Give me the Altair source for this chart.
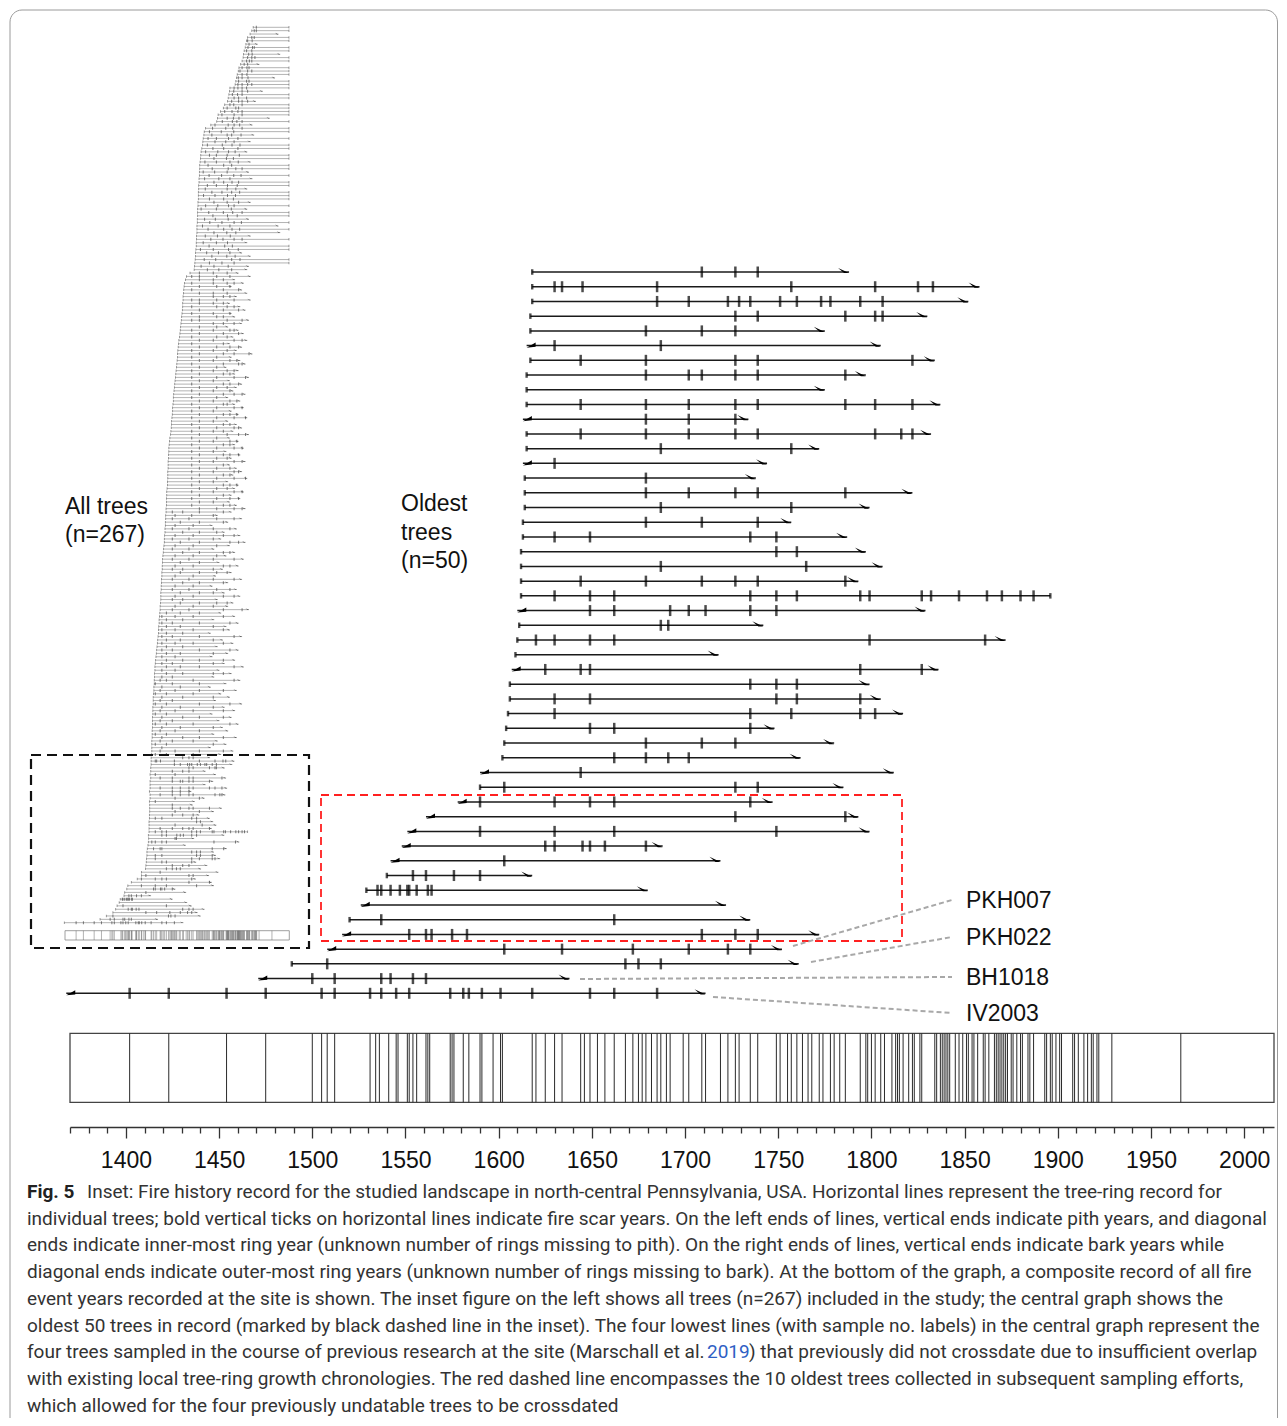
import altair as alt
import pandas as pd

# ---------------------------------------------------------------- data
# 50 oldest trees, central graph, from the top row to the bottom row
start_year = [1618, 1618, 1618, 1617, 1617, 1615, 1617, 1615, 1615, 1615,
              1613, 1615, 1615, 1613, 1614, 1614, 1614, 1613, 1613, 1612,
              1612, 1612, 1612, 1610, 1611, 1610, 1609, 1607, 1606, 1606,
              1605, 1604, 1603, 1602, 1590, 1590, 1578, 1561, 1551, 1548,
              1542, 1540, 1529, 1526, 1520, 1516, 1508, 1489, 1471, 1368]
# P = pith (vertical end), I = inner-most ring (diagonal end)
start_kind = list("PPPPPIPPPPIPPIPPPPPPPPPIPPPIPPPPPPIPIIIIIPPIPIIPII")
end_year = [1788, 1858, 1852, 1830, 1775, 1805, 1834, 1797, 1775, 1837,
            1734, 1832, 1772, 1744, 1738, 1822, 1799, 1757, 1787, 1797,
            1806, 1793, 1896, 1829, 1742, 1872, 1718, 1836, 1799, 1805,
            1817, 1748, 1780, 1762, 1812, 1785, 1747, 1793, 1799, 1688,
            1719, 1618, 1680, 1722, 1735, 1772, 1752, 1761, 1638, 1711]
# B = bark (vertical end), O = outer-most ring (diagonal end)
end_kind = list("OOOOOOOOOOOOOOOOOOOOOOBOOOOOOOOOOOOOOOOOOOOOOOOOOO")
scar_years = [
    [1709, 1727, 1739],
    [1630, 1634, 1645, 1685, 1757, 1802, 1825, 1833],
    [1685, 1702, 1723, 1729, 1735, 1751, 1760, 1773, 1778, 1794, 1806],
    [1727, 1739, 1786, 1802, 1806],
    [1679, 1709, 1727],
    [1630, 1687],
    [1644, 1679, 1727, 1739, 1822],
    [1679, 1702, 1709, 1727, 1739, 1786],
    [],
    [1644, 1679, 1702, 1727, 1739, 1786, 1802, 1822],
    [1679, 1702, 1727],
    [1644, 1679, 1702, 1727, 1739, 1802, 1816, 1822],
    [1687, 1757],
    [1630],
    [1679],
    [1679, 1702, 1727, 1739, 1786],
    [1687, 1757],
    [1679, 1709, 1739],
    [1630, 1649, 1735, 1749],
    [1749, 1760],
    [1687, 1765],
    [1644, 1679, 1709, 1727, 1739, 1786],
    [1630, 1649, 1662, 1735, 1749, 1760, 1794, 1799, 1827, 1832, 1847, 1862, 1870, 1880, 1887],
    [1649, 1662, 1692, 1702, 1711, 1735, 1749],
    [1687, 1691],
    [1620, 1630, 1649, 1662, 1799, 1861],
    [],
    [1625, 1644, 1649, 1794, 1827],
    [1735, 1749, 1760],
    [1630, 1649, 1749, 1760, 1794],
    [1630, 1735, 1757, 1794, 1802],
    [1649, 1662, 1735],
    [1679, 1709, 1727],
    [1662, 1679, 1691, 1702],
    [1644],
    [1603, 1727, 1739],
    [1590, 1630, 1649, 1662, 1735],
    [1727, 1786],
    [1590, 1630, 1662, 1749],
    [1625, 1630, 1645, 1649, 1657, 1679],
    [1603],
    [1554, 1561, 1576, 1590],
    [1535, 1537, 1542, 1547, 1551, 1552, 1556, 1562, 1564],
    [],
    [1537, 1662],
    [1552, 1561, 1564, 1575, 1583, 1709, 1727, 1739],
    [1603, 1634, 1672, 1702, 1723, 1735],
    [1508, 1668, 1675, 1687],
    [1500, 1512, 1537, 1542, 1554, 1561],
    [1402, 1423, 1454, 1475, 1505, 1512, 1531, 1537, 1545, 1552, 1574, 1581,
     1584, 1591, 1601, 1618, 1649, 1662, 1685],
]
sample_labels = ["PKH007", "PKH022", "BH1018", "IV2003"]

composite_years = [
    1402, 1423, 1454, 1475, 1500, 1505, 1508, 1512, 1531, 1534, 1536, 1541,
    1545, 1546, 1551, 1552, 1554, 1556, 1561, 1562, 1563, 1574, 1575, 1576,
    1581, 1584, 1590, 1591, 1597, 1601, 1602, 1618, 1620, 1625, 1630, 1634,
    1644, 1646, 1649, 1653, 1657, 1662, 1668, 1672, 1675, 1677, 1679, 1682,
    1685, 1687, 1690, 1692, 1699, 1702, 1709, 1711, 1719, 1723, 1727, 1729,
    1735, 1739, 1749, 1751, 1755, 1757, 1760, 1763, 1766, 1768, 1772, 1774,
    1778, 1780, 1783, 1786, 1794, 1797, 1798, 1800, 1802, 1805, 1807, 1811,
    1813, 1814, 1815, 1817, 1820, 1822, 1823, 1826, 1827, 1834, 1835, 1837,
    1838, 1839, 1840, 1841, 1842, 1845, 1847, 1849, 1851, 1852, 1854, 1855,
    1857, 1860, 1861, 1863, 1866, 1867, 1868, 1869, 1870, 1871, 1872, 1873,
    1875, 1876, 1878, 1880, 1881, 1884, 1885, 1887, 1893, 1894, 1896, 1897,
    1899, 1901, 1902, 1908, 1909, 1911, 1914, 1916, 1918, 1919, 1921, 1922,
    1929, 1966]

# inset: the 217 younger trees (top of inset downwards); the 50 oldest follow
inset_start = [
    1912, 1908, 1903, 1896, 1893, 1891, 1889, 1886, 1884, 1883,
    1880, 1876, 1871, 1869, 1866, 1864, 1862, 1860, 1845, 1844,
    1842, 1840, 1838, 1830, 1826, 1818, 1811, 1809, 1807, 1790,
    1775, 1771, 1770, 1768, 1767, 1766, 1764, 1762, 1761, 1760,
    1759, 1758, 1758, 1757, 1757, 1756, 1756, 1755, 1755, 1754,
    1754, 1754, 1753, 1753, 1752, 1752, 1752, 1751, 1751, 1750,
    1750, 1750, 1749, 1749, 1748, 1748, 1747, 1746, 1746, 1745,
    1744, 1743, 1742, 1730, 1720, 1717, 1714, 1713, 1712, 1711,
    1710, 1710, 1709, 1709, 1708, 1707, 1706, 1705, 1704, 1703,
    1702, 1701, 1700, 1698, 1697, 1696, 1695, 1694, 1694, 1693,
    1692, 1691, 1690, 1689, 1688, 1687, 1686, 1685, 1684, 1683,
    1682, 1682, 1681, 1680, 1680, 1679, 1678, 1677, 1677, 1676,
    1675, 1674, 1672, 1671, 1670, 1669, 1669, 1668, 1668, 1667,
    1667, 1667, 1666, 1666, 1666, 1665, 1665, 1664, 1663, 1663,
    1662, 1662, 1662, 1661, 1661, 1660, 1660, 1659, 1659, 1658,
    1658, 1657, 1656, 1656, 1655, 1654, 1653, 1652, 1651, 1651,
    1650, 1650, 1649, 1649, 1648, 1648, 1647, 1647, 1646, 1646,
    1646, 1645, 1644, 1644, 1643, 1642, 1641, 1641, 1640, 1639,
    1639, 1638, 1637, 1636, 1635, 1634, 1633, 1632, 1631, 1630,
    1629, 1629, 1628, 1628, 1627, 1627, 1626, 1626, 1625, 1624,
    1624, 1624, 1623, 1623, 1623, 1622, 1622, 1622, 1622, 1621,
    1621, 1621, 1620, 1620, 1620, 1620, 1619]
inset_end = [
    2015, 2015, 1985, 2015, 2015, 1925, 2015, 2015, 1990, 2015,
    2015, 1930, 2015, 2015, 2015, 1975, 2015, 2015, 2015, 1940,
    2015, 2015, 1920, 2015, 2015, 2015, 2015, 1960, 2015, 1910,
    2015, 2015, 1915, 2015, 1905, 2015, 2015, 1895, 2015, 2015,
    1905, 2015, 2015, 1900, 2015, 1910, 2015, 2015, 1895, 2015,
    2015, 2015, 1905, 2015, 1895, 2015, 2015, 1900, 2015, 1985,
    2015, 1990, 1905, 2015, 1895, 2015, 2015, 1880, 1905, 2015,
    2015, 1900, 1895,
    1870, 1905, 1860, 1885, 1850, 1880, 1895, 1865, 1905, 1845,
    1875, 1890, 1850, 1860, 1900, 1880, 1840, 1870, 1885, 1855,
    1895, 1845, 1880, 1865, 1910, 1850, 1875, 1890, 1835, 1870,
    1860, 1900, 1845, 1880, 1865, 1855, 1890, 1840, 1875, 1860,
    1885, 1850, 1870, 1895, 1840, 1865, 1880, 1855, 1900, 1845,
    1870, 1860, 1885, 1835, 1875, 1850, 1890, 1845, 1865, 1880,
    1855, 1895, 1840, 1870, 1860, 1885, 1850, 1875, 1845, 1865, 1890,
    1850, 1810, 1880, 1840, 1795, 1865, 1830, 1875, 1820, 1890,
    1845, 1800, 1860, 1835, 1885, 1815, 1870, 1825, 1850, 1805,
    1880, 1840, 1795, 1865, 1830, 1875, 1810, 1855, 1840, 1900,
    1820, 1860, 1800, 1870, 1835, 1845, 1790, 1880, 1825, 1855,
    1810, 1870, 1840, 1795, 1860, 1830, 1885, 1815, 1850, 1800,
    1875, 1835, 1790, 1865, 1820, 1845, 1805, 1880, 1830, 1860,
    1795, 1850, 1815, 1870, 1825, 1840, 1800, 1865, 1810, 1835,
    1790, 1855, 1820]
inset_scar_text = [
    "1921", "1915 1921", "", "1908 1915", "1896 1909", "1900", "1897 1910 1915", "1893 1908", "1899 1909", "1896 1908 1917",
    "1893 1901 1908", "1886 1896", "1880 1894 1900", "1874 1896 1908", "1880 1894", "1869 1880 1897", "1870 1893 1900", "1868 1880 1896 1908", "1857 1868 1880 1893", "1856 1880 1896",
    "1852 1867 1880", "1857 1870 1893", "1850 1870 1880 1896", "1845 1856 1880", "1837 1862 1870", "1830 1851 1868 1880", "1822 1857 1880", "1837 1855 1871", "1823 1852 1865 1880", "1802 1840 1857 1873",
    "1795 1833 1853 1880", "1786 1820 1856", "1793 1837 1850 1877", "1782 1806 1841 1868", "1802 1833 1857", "1780 1823 1851 1874", "1796 1827 1868", "1775 1810 1841 1860", "1786 1806 1837 1872", "1799 1835 1855",
    "1773 1806 1845 1869", "1782 1827 1850", "1794 1840 1862 1880", "1768 1801 1837", "1785 1821 1856 1877", "1772 1813 1845", "1799 1827 1851 1870", "1780 1806 1838 1866", "1774 1837 1862", "1793 1822 1850 1873",
    "1769 1802 1838 1861", "1786 1827 1855", "1799 1837 1870", "1775 1810 1841 1857", "1762 1806 1849", "1784 1826 1853 1880", "1796 1838 1866", "1772 1803 1840", "1787 1822 1857 1878", "1766 1811 1845",
    "1782 1827 1851 1873", "1799 1836 1862", "1774 1809 1846", "1790 1825 1857 1880", "1768 1806 1838", "1785 1830 1852", "1760 1797 1841 1869", "1778 1812 1845", "1793 1836 1860", "1771 1804 1850 1874",
    "1786 1822 1857", "1762 1799 1840", "1780 1813 1850",
    "1757 1797 1837", "1735 1757 1807 1845", "1757 1797 1826", "1735 1797 1837 1857", "1757 1807 1845", "1735 1826 1870", "1757 1797 1837", "1797 1826 1845", "1735 1757 1807 1857", "1757 1797 1826",
    "1735 1807 1837 1857", "1757 1826 1870", "1735 1797 1845", "1757 1807 1826", "1735 1757 1837 1880", "1797 1826 1857", "1757 1807", "1735 1797 1845 1857", "1757 1826 1870", "1735 1807 1837",
    "1757 1797 1857 1880", "1735 1826", "1757 1807 1845 1870", "1735 1797 1837", "1757 1826 1857 1900", "1735 1807", "1757 1797 1845 1865", "1735 1826 1870 1880", "1757 1807", "1735 1797 1837 1857",
    "1757 1826 1845", "1735 1807 1857 1890", "1757 1797", "1735 1826 1845 1870", "1757 1807 1837", "1735 1797 1845", "1757 1826 1857 1880", "1735 1807", "1757 1797 1845 1865", "1735 1826 1837",
    "1757 1807 1857 1880", "1735 1797", "1757 1826 1845 1865", "1735 1807 1857 1890", "1757 1797", "1735 1826 1845", "1757 1807 1857 1870", "1735 1797 1826", "1757 1837 1870 1890", "1735 1807",
    "1757 1797 1845 1865", "1735 1826 1845", "1757 1807 1857 1880", "1735 1797", "1757 1826 1845 1870", "1735 1807 1837", "1757 1797 1857 1880", "1735 1826", "1757 1807 1845", "1735 1797 1857 1870",
    "1757 1826 1845", "1735 1807 1857 1890", "1757 1797", "1735 1826 1845 1865", "1757 1807 1837", "1735 1797 1857 1880", "1757 1826", "1735 1807 1845 1870", "1757 1797", "1735 1826 1845", "1757 1807 1857 1880",
    "1679 1709 1757 1826", "1687 1735 1797", "1679 1727 1807 1857", "1702 1757 1826", "1687 1739", "1679 1727 1797 1845", "1709 1757 1807", "1687 1739 1826 1857", "1679 1727 1797", "1702 1757 1845 1870",
    "1687 1739 1807", "1679 1727", "1709 1757 1826 1845", "1687 1739 1807", "1679 1727 1797 1857", "1702 1757", "1687 1739 1826 1845", "1679 1709 1797", "1702 1757 1807 1837", "1687 1739",
    "1679 1727 1797 1857", "1709 1757 1826", "1687 1739", "1679 1727 1807 1845", "1702 1757 1797", "1687 1739 1826 1857", "1679 1709", "1702 1757 1807 1837", "1687 1739 1797", "1679 1727 1826 1880",
    "1662 1702 1757", "1649 1687 1739 1826", "1662 1709", "1649 1679 1757 1845", "1662 1702 1797", "1649 1687 1739 1826", "1662 1709", "1649 1679 1757 1857", "1662 1702 1797", "1649 1687 1739 1826",
    "1662 1709", "1649 1679 1757 1845", "1662 1702 1797", "1649 1687", "1662 1709 1757 1826", "1649 1679 1797", "1662 1702 1757 1857", "1649 1687", "1662 1709 1797 1826", "1649 1679",
    "1644 1662 1739 1857", "1630 1679 1757", "1649 1702", "1644 1687 1757 1826", "1630 1662 1739", "1649 1709 1797", "1644 1679", "1630 1662 1757 1845", "1649 1702 1797", "1644 1687 1739 1826",
    "1630 1662", "1649 1709 1757 1826", "1644 1679", "1630 1662 1739 1845", "1649 1702 1797", "1644 1687 1757", "1630 1662", "1649 1709 1757 1826", "1644 1679 1739", "1630 1662 1797",
    "1649", "1644 1687 1757 1826", "1630 1662 1739",
]

axis_years = list(range(1370, 2011, 10))

caption_lines = [
    "Inset: Fire history record for the studied landscape in north-central Pennsylvania, USA. Horizontal lines represent the tree-ring record for",
    "individual trees; bold vertical ticks on horizontal lines indicate fire scar years. On the left ends of lines, vertical ends indicate pith years, and diagonal",
    "ends indicate inner-most ring year (unknown number of rings missing to pith). On the right ends of lines, vertical ends indicate bark years while",
    "diagonal ends indicate outer-most ring years (unknown number of rings missing to bark). At the bottom of the graph, a composite record of all fire",
    "event years recorded at the site is shown. The inset figure on the left shows all trees (n=267) included in the study; the central graph shows the",
    "oldest 50 trees in record (marked by black dashed line in the inset). The four lowest lines (with sample no. labels) in the central graph represent the",
    "four trees sampled in the course of previous research at the site (Marschall et al.",
    "with existing local tree-ring growth chronologies. The red dashed line encompasses the 10 oldest trees collected in subsequent sampling efforts,",
    "which allowed for the four previously undatable trees to be crossdated",
]
caption_ref = "2019"
caption_tail = ") that previously did not crossdate due to insufficient overlap"

# ---------------------------------------------------------------- tables
n_main = len(start_year)
main_df = pd.DataFrame({
    "row": list(range(1, n_main + 1)),
    "start": start_year,
    "end": end_year,
    "skind": start_kind,
    "ekind": end_kind,
})
scar_df = pd.DataFrame(
    [{"row": i + 1, "year": y} for i, ys in enumerate(scar_years) for y in ys])

n_inset = min(len(inset_start), len(inset_end), len(inset_scar_text))
inset_rows = []
inset_scar_rows = []
for i in range(n_inset):
    s, e = inset_start[i], inset_end[i]
    inset_rows.append({"r": i, "start": s, "end": e, "skind": "P",
                       "ekind": "B" if e >= 2015 else "O"})
    for tok in inset_scar_text[i].split():
        y = int(tok)
        if s < y < e:
            inset_scar_rows.append({"r": i, "year": y})
for j in range(n_main):
    r = 217 + j
    inset_rows.append({"r": r, "start": start_year[j], "end": end_year[j],
                       "skind": start_kind[j], "ekind": end_kind[j]})
    for y in scar_years[j]:
        inset_scar_rows.append({"r": r, "year": y})
inset_df = pd.DataFrame(inset_rows)
inset_scar_df = pd.DataFrame(inset_scar_rows)
comp_df = pd.DataFrame({"year": composite_years})

# ---------------------------------------------------------------- scales
W, H = 1204, 1119
xs = alt.Scale(domain=[1370, 2016], range=[0, W], nice=False, zero=False)
ys = alt.Scale(domain=[1, 50], range=[264, 985.3], nice=False, zero=False)
ixs = alt.Scale(domain=[1370, 2016], range=[-5, 219.3], nice=False, zero=False)
iys = alt.Scale(domain=[0, 266], range=[19.3, 914.7], nice=False, zero=False)

PATH_OUT = "M -1 -0.75 L 1 0.2 L 0.1 0.2 Z"
PATH_IN = "M -1 0.45 L 1 -0.7 L 1 0.25 Z"
one = alt.Data(values=[{"k": 0}])
INK = "#1a1a1a"


def txt(text, x, y, size=23, font="Liberation Sans", color="#111111",
        weight="normal", baseline="middle", align="left"):
    return alt.Chart(one).mark_text(
        text=text, font=font, fontSize=size, color=color, fontWeight=weight,
        baseline=baseline, align=align).encode(x=alt.value(x), y=alt.value(y))


def box(x, x2, y, y2, **kw):
    return alt.Chart(one).mark_rect(fill="transparent", **kw).encode(
        x=alt.value(x), x2=alt.value(x2), y=alt.value(y), y2=alt.value(y2))


def seg(x, y, x2, y2):
    return alt.Chart(one).mark_rule(color="#a8a8a8", strokeWidth=2,
                                    strokeDash=[5, 3]).encode(
        x=alt.value(x), y=alt.value(y), x2=alt.value(x2), y2=alt.value(y2))


layers = []
# outer frame of the figure
layers.append(box(-60, 1207.5, 2, 1450, stroke="#9a9a9a", strokeWidth=1,
                  cornerRadius=12))

# ---------------- inset (all trees)
layers.append(alt.Chart(inset_df).mark_rule(color="#9a9a9a", strokeWidth=0.75).encode(
    x=alt.X("start:Q", scale=ixs, axis=None), x2="end:Q",
    y=alt.Y("r:Q", scale=iys, axis=None)))
layers.append(alt.Chart(inset_scar_df).mark_tick(
    orient="vertical", color="#444444", size=3, thickness=1).encode(
    x=alt.X("year:Q", scale=ixs, axis=None), y=alt.Y("r:Q", scale=iys, axis=None)))
layers.append(alt.Chart(inset_df).mark_tick(
    orient="vertical", color="#555555", size=2.5, thickness=0.8).encode(
    x=alt.X("start:Q", scale=ixs, axis=None), y=alt.Y("r:Q", scale=iys, axis=None)))
layers.append(alt.Chart(inset_df).transform_filter("datum.ekind == 'O'").mark_point(
    shape=PATH_OUT, filled=True, size=12, color="#444444", strokeWidth=0,
    xOffset=-1.7, opacity=1).encode(
    x=alt.X("end:Q", scale=ixs, axis=None), y=alt.Y("r:Q", scale=iys, axis=None)))
layers.append(alt.Chart(inset_df).transform_filter("datum.ekind == 'B'").mark_tick(
    orient="vertical", color="#555555", size=2.5, thickness=0.8).encode(
    x=alt.X("end:Q", scale=ixs, axis=None), y=alt.Y("r:Q", scale=iys, axis=None)))
# inset composite
layers.append(box(-5, 219.3, 922.7, 932, stroke="#888888", strokeWidth=0.8))
layers.append(alt.Chart(comp_df).mark_rule(color="#666666", strokeWidth=0.5).encode(
    x=alt.X("year:Q", scale=ixs, axis=None),
    y=alt.value(922.7), y2=alt.value(932)))

# dashed frames
layers.append(box(-39, 239, 747, 940, stroke="#111111", strokeWidth=2.2,
                  strokeDash=[10, 6]))
layers.append(box(251, 832, 787, 933, stroke="#ff2020", strokeWidth=1.8,
                  strokeDash=[8, 5]))

# ---------------- central graph (oldest 50)
layers.append(alt.Chart(main_df).mark_rule(color=INK, strokeWidth=1.5).encode(
    x=alt.X("start:Q", scale=xs, axis=None), x2="end:Q",
    y=alt.Y("row:Q", scale=ys, axis=None)))
layers.append(alt.Chart(scar_df).mark_tick(
    orient="vertical", color="#000000", size=11, thickness=2.5).encode(
    x=alt.X("year:Q", scale=xs, axis=None), y=alt.Y("row:Q", scale=ys, axis=None)))
layers.append(alt.Chart(main_df).transform_filter("datum.skind == 'P'").mark_tick(
    orient="vertical", color="#000000", size=5.5, thickness=2.4).encode(
    x=alt.X("start:Q", scale=xs, axis=None), y=alt.Y("row:Q", scale=ys, axis=None)))
layers.append(alt.Chart(main_df).transform_filter("datum.ekind == 'B'").mark_tick(
    orient="vertical", color="#000000", size=5.5, thickness=2.4).encode(
    x=alt.X("end:Q", scale=xs, axis=None), y=alt.Y("row:Q", scale=ys, axis=None)))
layers.append(alt.Chart(main_df).transform_filter("datum.skind == 'I'").mark_point(
    shape=PATH_IN, filled=True, size=81, color="#000000", strokeWidth=0,
    xOffset=4.5, opacity=1).encode(
    x=alt.X("start:Q", scale=xs, axis=None), y=alt.Y("row:Q", scale=ys, axis=None)))
layers.append(alt.Chart(main_df).transform_filter("datum.ekind == 'O'").mark_point(
    shape=PATH_OUT, filled=True, size=121, color="#000000", strokeWidth=0,
    xOffset=-5.5, opacity=1).encode(
    x=alt.X("end:Q", scale=xs, axis=None), y=alt.Y("row:Q", scale=ys, axis=None)))

# ---------------- composite record + axis
layers.append(box(0, W, 1025.3, 1094.3, stroke="#444444", strokeWidth=1.3))
layers.append(alt.Chart(comp_df).mark_rule(color="#2a2a2a", strokeWidth=1).encode(
    x=alt.X("year:Q", scale=xs, axis=alt.Axis(
        orient="bottom", values=axis_years, format="d", title=None, grid=False,
        labelExpr="datum.value % 50 === 0 ? datum.label : ''",
        tickSize={"condition": {"test": "datum.value % 50 === 0", "value": 11},
                  "value": 6},
        tickColor="#333333", tickWidth=1.3, domainColor="#333333",
        domainWidth=1.3, labelFont="Liberation Sans", labelFontSize=23,
        labelColor="#111111", labelPadding=11, labelFlush=False,
        labelOverlap=False)),
    y=alt.value(1025.3), y2=alt.value(1094.3)))

# ---------------- annotations
layers.append(txt("All trees", -5, 499))
layers.append(txt("(n=267)", -5, 527))
layers.append(txt("Oldest", 331, 496))
layers.append(txt("trees", 331, 525))
layers.append(txt("(n=50)", 331, 553))
lead = [(723, 938, 882, 892), (741, 954, 882, 929),
        (510, 971, 882, 969), (643, 989, 882, 1005)]
lab_y = [893, 930, 970, 1006]
for (a, b, c, d), lab, ly in zip(lead, sample_labels, lab_y):
    layers.append(seg(a, b, c, d))
    layers.append(txt(lab, 896, ly))

# ---------------- caption
CF = "Roboto"
CS = 19
CC = "#333333"
base0, step = 1190, 26.7
layers.append(txt("Fig. 5", -43, base0, size=CS, font=CF, color="#222222",
                  weight="bold", baseline="alphabetic"))
for i, line in enumerate(caption_lines):
    x0 = 17 if i == 0 else -43
    layers.append(txt(line, x0, base0 + i * step, size=CS, font=CF, color=CC,
                      baseline="alphabetic"))
layers.append(txt(caption_ref, 637, base0 + 6 * step, size=CS, font=CF,
                  color="#2f5fc4", baseline="alphabetic"))
layers.append(txt(caption_tail, 679, base0 + 6 * step, size=CS, font=CF,
                  color=CC, baseline="alphabetic"))

chart = alt.layer(*layers).resolve_scale(
    x="independent", y="independent"
).properties(
    width=W, height=H,
    padding={"left": 62, "top": 0, "right": 5, "bottom": 291},
    autosize=alt.AutoSizeParams(type="none"),
).configure_view(stroke="transparent")

chart.save("out.html", embed_options={"renderer": "svg", "actions": False})
